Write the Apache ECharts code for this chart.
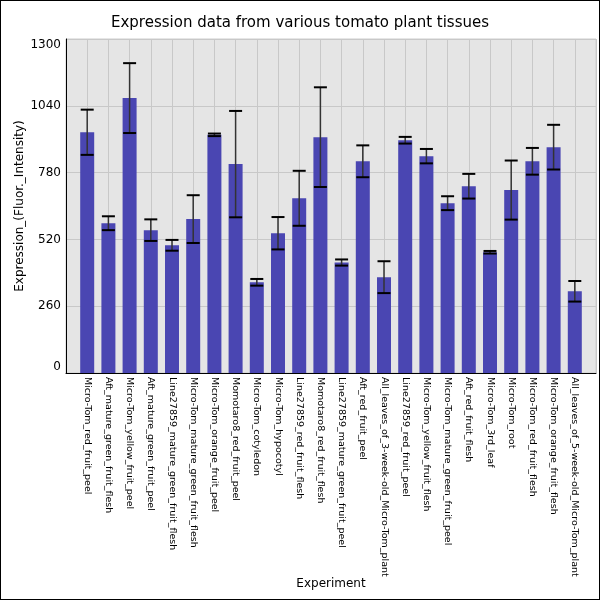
<!DOCTYPE html>
<html lang="en">

<head>
    <meta charset="UTF-8">
    <title>Expression data</title>
    <script src="https://cdn.jsdelivr.net/npm/echarts@6/dist/echarts.min.js"></script>
    <style>
        html, body { margin: 0; padding: 0; background: #fff; }
        #chart {
            width: 598px;
            height: 598px;
            border: 1px solid #000;
        }
    </style>
</head>

<body>
    <div id="chart"></div>
    <script>
        // tissues left to right
        var tissues = [
            'Micro-Tom_red_fruit_peel', 'Aft_mature_green_fruit_flesh', 'Micro-Tom_yellow_fruit_peel',
            'Aft_mature_green_fruit_peel', 'Line27859_mature_green_fruit_flesh', 'Micro-Tom_mature_green_fruit_flesh',
            'Micro-Tom_orange_fruit_peel', 'Momotaro8_red_fruit_peel', 'Micro-Tom_cotyledon',
            'Micro-Tom_hypocotyl', 'Line27859_red_fruit_flesh', 'Momotaro8_red_fruit_flesh',
            'Line27859_mature_green_fruit_peel', 'Aft_red_fruit_peel', 'All_leaves_of_3-week-old_Micro-Tom_plant',
            'Line27859_red_fruit_peel', 'Micro-Tom_yellow_fruit_flesh', 'Micro-Tom_mature_green_fruit_peel',
            'Aft_red_fruit_flesh', 'Micro-Tom_3rd_leaf', 'Micro-Tom_root',
            'Micro-Tom_red_fruit_flesh', 'Micro-Tom_orange_fruit_flesh', 'All_leaves_of_5-week-old_Micro-Tom_plant'
        ];
        var expression = [937, 583, 1070, 556, 497, 599, 927, 813, 353, 544, 680, 918,
            430, 824, 373, 906, 844, 661, 727, 470, 712, 824, 879, 318];
        var errors = [88, 27, 136, 42, 21, 93, 5, 207, 13, 63, 107, 194,
            12, 62, 62, 13, 28, 27, 48, 5, 115, 52, 87, 40];
        var yTicks = [0, 260, 520, 780, 1040, 1300];

        // one empty slot each side so bars sit a full step away from the frame
        var axisCats = [''].concat(tissues, ['']);
        var barData = ['-'].concat(expression, ['-']);
        var errData = expression.map(function (v, i) {
            return [i + 1, v - errors[i], v + errors[i]];
        });

        var font = 'DejaVu Sans';
        var myChart = echarts.init(document.getElementById('chart'));
        myChart.setOption({
            animation: false,
            textStyle: { fontFamily: font },
            title: {
                text: 'Expression data from various tomato plant tissues',
                left: 'center',
                top: 10,
                textStyle: { fontFamily: font, fontSize: 15, fontWeight: 'normal', color: '#000' }
            },
            grid: {
                left: 65,
                right: 3,
                top: 38,
                bottom: 226,
                outerBoundsMode: 'none',
                show: true,
                backgroundColor: '#e5e5e5',
                borderColor: '#cccccc',
                borderWidth: 1
            },
            xAxis: {
                type: 'category',
                data: axisCats,
                boundaryGap: false,
                name: 'Experiment',
                nameLocation: 'middle',
                nameGap: 205,
                nameMoveOverlap: false,
                nameTextStyle: { fontFamily: font, fontSize: 12, color: '#000' },
                axisLine: { lineStyle: { color: '#000', width: 1 } },
                axisTick: { show: false },
                axisLabel: {
                    interval: 0,
                    rotate: -90,
                    margin: 4,
                    fontSize: 9.5,
                    fontFamily: font,
                    color: '#000'
                },
                splitLine: { show: true, interval: 0, lineStyle: { color: '#c8c8c8', width: 1 } }
            },
            yAxis: {
                type: 'value',
                min: yTicks[0],
                max: yTicks[yTicks.length - 1],
                interval: yTicks[1] - yTicks[0],
                name: 'Expression_(Fluor._Intensity)',
                nameLocation: 'middle',
                nameGap: 40,
                nameMoveOverlap: false,
                nameTextStyle: { fontFamily: font, fontSize: 12, color: '#000' },
                axisLine: { show: true, lineStyle: { color: '#000', width: 1 } },
                axisTick: { show: false },
                axisLabel: {
                    fontSize: 12,
                    fontFamily: font,
                    color: '#000',
                    margin: 5,
                    formatter: function (v) { return String(v); },
                    verticalAlignMinLabel: 'bottom',
                    verticalAlignMaxLabel: 'top'
                },
                splitLine: { lineStyle: { color: '#c8c8c8', width: 1 } }
            },
            series: [{
                type: 'bar',
                data: barData,
                barWidth: 14,
                itemStyle: { color: '#4a46b2' }
            }, {
                type: 'custom',
                data: errData,
                z: 5,
                renderItem: function (params, api) {
                    var x = api.value(0);
                    var lo = api.coord([x, api.value(1)]);
                    var hi = api.coord([x, api.value(2)]);
                    var half = 6.5;
                    return {
                        type: 'group',
                        children: [{
                            type: 'line',
                            shape: { x1: lo[0], y1: lo[1], x2: hi[0], y2: hi[1] },
                            style: { stroke: '#333', lineWidth: 1.5 }
                        }, {
                            type: 'line',
                            shape: { x1: lo[0] - half, y1: lo[1], x2: lo[0] + half, y2: lo[1] },
                            style: { stroke: '#000', lineWidth: 2 }
                        }, {
                            type: 'line',
                            shape: { x1: hi[0] - half, y1: hi[1], x2: hi[0] + half, y2: hi[1] },
                            style: { stroke: '#000', lineWidth: 2 }
                        }]
                    };
                }
            }]
        });
    </script>
</body>

</html>
